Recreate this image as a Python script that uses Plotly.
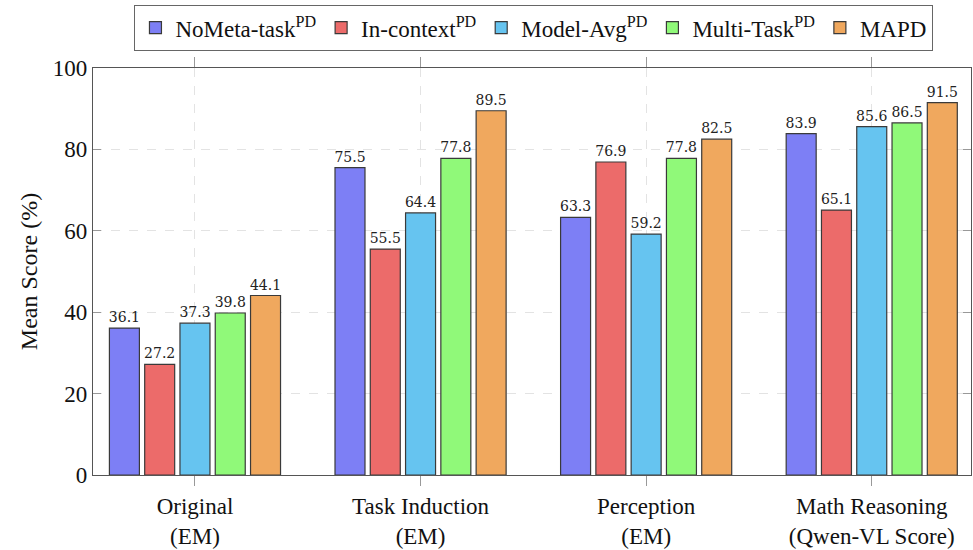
import plotly.graph_objects as go

# Task categories (two-line tick labels)
categories = [
    "Original<br>(EM)",
    "Task Induction<br>(EM)",
    "Perception<br>(EM)",
    "Math Reasoning<br>(Qwen-VL Score)",
]

# Series names and mean scores (%)
series_names = [
    "NoMeta-task<sup>PD</sup>",
    "In-context<sup>PD</sup>",
    "Model-Avg<sup>PD</sup>",
    "Multi-Task<sup>PD</sup>",
    "MAPD",
]
nometa_scores = [36.1, 75.5, 63.3, 83.9]
incontext_scores = [27.2, 55.5, 76.9, 65.1]
modelavg_scores = [37.3, 64.4, 59.2, 85.6]
multitask_scores = [39.8, 77.8, 77.8, 86.5]
mapd_scores = [44.1, 89.5, 82.5, 91.5]

y_ticks = [0, 20, 40, 60, 80, 100]

series_values = [nometa_scores, incontext_scores, modelavg_scores,
                 multitask_scores, mapd_scores]
colors = ["#7d7ff5", "#ec6b6a", "#66c4f0", "#90f979", "#f0a85e"]

serif = "Liberation Serif, Times New Roman, serif"

fig = go.Figure()
for name, vals, col in zip(series_names, series_values, colors):
    fig.add_trace(go.Bar(
        x=categories,
        y=vals,
        name=name,
        marker=dict(color=col, line=dict(color="#3a3a3a", width=1.2)),
        text=[f"{v:.1f}" for v in vals],
        textposition="outside",
        constraintext="none",
        textfont=dict(family="DejaVu Serif, serif", size=14, color="#222"),
        cliponaxis=False,
    ))

fig.update_layout(
    width=973,
    height=550,
    margin=dict(l=93, r=1, t=68, b=69),
    paper_bgcolor="white",
    plot_bgcolor="white",
    barmode="group",
    bargap=0.218,
    bargroupgap=0.15,
    font=dict(family=serif, size=23, color="#111"),
    showlegend=True,
    legend=dict(
        orientation="h",
        x=0.502, xanchor="center",
        y=1.155, yanchor="top",
        bordercolor="#666", borderwidth=1.2,
        font=dict(family=serif, size=23, color="#111"),
        itemwidth=30,
        tracegroupgap=0,
    ),
)

fig.update_xaxes(
    range=[-0.452, 3.44],
    showline=True, linecolor="#555", linewidth=1.3,
    mirror="ticks",
    ticks="outside", ticklen=10, tickcolor="#999", tickwidth=1,
    showgrid=True, gridcolor="#e3e3e3", griddash="dash", gridwidth=1,
    tickfont=dict(family=serif, size=23, color="#111"),
)

fig.update_yaxes(
    range=[0, 100],
    tickvals=y_ticks,
    showline=True, linecolor="#555", linewidth=1.3,
    mirror="ticks",
    ticks="inside", ticklen=8, tickcolor="#999", tickwidth=1,
    showgrid=True, gridcolor="#e3e3e3", griddash="dash", gridwidth=1,
    zeroline=False,
    tickfont=dict(family=serif, size=23, color="#111"),
    title=dict(text="Mean Score (%)", font=dict(family=serif, size=24, color="#111"),
               standoff=8),
)

fig.write_html("out.html")
